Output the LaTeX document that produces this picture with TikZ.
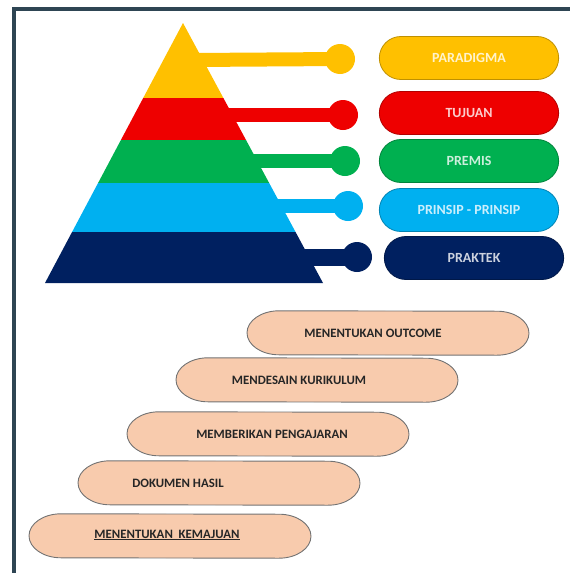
\documentclass[tikz,border=0pt]{standalone}
\usepackage{fontspec}
\setmainfont{Carlito}
\usetikzlibrary{shapes.misc}
\definecolor{frameblue}{HTML}{2E4553}
\definecolor{pyrYellow}{HTML}{FFC000}
\definecolor{pyrRed}{HTML}{EE0000}
\definecolor{pyrGreen}{HTML}{00B050}
\definecolor{pyrBlue}{HTML}{00B0F0}
\definecolor{pyrNavy}{HTML}{002060}
\definecolor{peach}{HTML}{F8CBAD}

% peach step outline with long elliptic ends around a named holder node
\newcommand\stepoutline[1]{%
  \filldraw[stepline] ([xshift=-109pt]#1.north)
    arc[start angle=90, end angle=270, x radius=32pt, y radius=22pt]
    -- ([xshift=109pt]#1.south)
    arc[start angle=-90, end angle=90, x radius=32pt, y radius=22pt] -- cycle;}

\begin{document}
\begin{tikzpicture}[x=1pt,y=-1pt,
  tierpill/.style={rounded rectangle, draw=#1!75!black, line width=0.8pt, fill=#1,
    minimum width=186pt, minimum height=43pt,
    font=\fontsize{14}{14}\selectfont\bfseries, text=#1!20!white},
  tierdot/.style={circle, fill=#1, minimum size=30pt, inner sep=0pt},
  tierbar/.style={#1, line width=14pt},
  stepbox/.style={rectangle, minimum width=282pt, minimum height=44pt, inner sep=0pt},
  stepline/.style={draw=black!55, line width=0.9pt, fill=peach},
  steptext/.style={font=\fontsize{12.8}{13}\selectfont\bfseries, text=black!85}]
\useasboundingbox (0,0) rectangle (570,573);
\draw[frameblue, line width=3.5pt] (14,9) rectangle (600,600);

% pyramid
\coordinate (A) at (183,23);
\coordinate (L) at (45,283);
\coordinate (R) at (323,283);
\begin{scope}
\clip (A)--(L)--(R)--cycle;
\fill[pyrYellow] (0,0) rectangle (570,98);
\fill[pyrRed] (0,98) rectangle (570,140);
\fill[pyrGreen] (0,140) rectangle (570,183);
\fill[pyrBlue] (0,183) rectangle (570,232);
\fill[pyrNavy] (0,232) rectangle (570,284);
\end{scope}

% knobs and bars
\node[tierdot=pyrYellow] (d1) at (340,59) {};
\node[tierdot=pyrRed] (d2) at (343,115) {};
\node[tierdot=pyrGreen] (d3) at (345,161) {};
\node[tierdot=pyrBlue] (d4) at (348,206) {};
\node[tierdot=pyrNavy] (d5) at (357,257) {};
\coordinate (b1) at (193,60);
\coordinate (b2) at (222,115);
\coordinate (b3) at (247,161);
\coordinate (b4) at (271,206);
\coordinate (b5) at (299,257);
\draw[tierbar=pyrYellow] (b1)--(d1.center);
\draw[tierbar=pyrRed] (b2)--(d2.center);
\draw[tierbar=pyrGreen] (b3)--(d3.center);
\draw[tierbar=pyrBlue] (b4)--(d4.center);
\draw[tierbar=pyrNavy, line width=17pt] (b5)--(d5.center);

% labels
\node[tierpill=pyrYellow] (p1) at (469,58) {PARADIGMA};
\node[tierpill=pyrRed] (p2) at (469,113) {TUJUAN};
\node[tierpill=pyrGreen] (p3) at (469,161) {PREMIS};
\node[tierpill=pyrBlue] (p4) at (469,210) {PRINSIP - PRINSIP};
\node[tierpill=pyrNavy] (p5) at (474,258) {PRAKTEK};

% steps
\node[stepbox] (s1) at (388,333) {};
\node[stepbox] (s2) at (317,380) {};
\node[stepbox] (s3) at (268,434) {};
\node[stepbox] (s4) at (219,483) {};
\node[stepbox] (s5) at (170,536) {};
\stepoutline{s1}
\stepoutline{s2}
\stepoutline{s3}
\stepoutline{s4}
\stepoutline{s5}
\node[steptext] (t1) at (373,333) {MENENTUKAN OUTCOME};
\node[steptext] (t2) at (299,380) {MENDESAIN KURIKULUM};
\node[steptext] (t3) at (272,434) {MEMBERIKAN PENGAJARAN};
\node[steptext] (t4) at (178,483) {DOKUMEN HASIL};
\node[steptext] (t5) at (167,535) {\underline{MENENTUKAN\ \ KEMAJUAN}};
\end{tikzpicture}
\end{document}
